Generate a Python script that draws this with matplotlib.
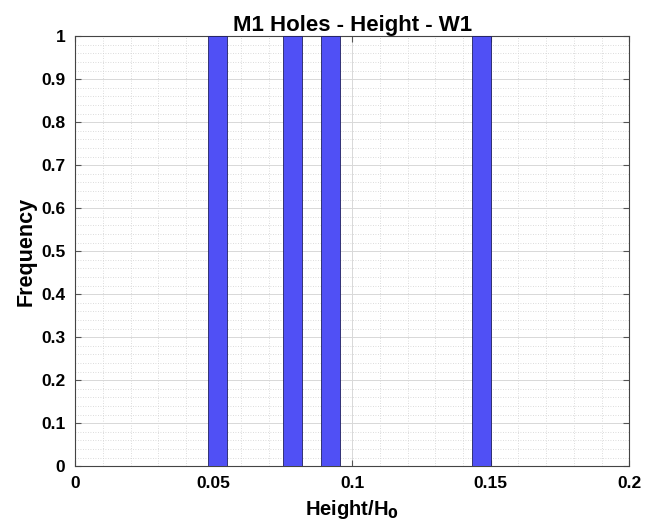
import numpy as np
import matplotlib
matplotlib.use("Agg")
import matplotlib.pyplot as plt
from matplotlib.ticker import MultipleLocator

plt.rcParams['font.family'] = ['Liberation Sans', 'DejaVu Sans']

# histogram bins
bin_left = [0.048, 0.0752, 0.0888, 0.1432]
bin_width = 0.0068
freq = [1, 1, 1, 1]

fig = plt.figure(figsize=(6.48, 5.31), dpi=100)
ax = fig.add_axes([0.116, 0.122, 0.855, 0.81])

ax.bar(bin_left, freq, width=bin_width, align='edge',
       color='#5050f5', edgecolor='#202060', linewidth=0.6, zorder=3)

ax.set_xlim(0, 0.2)
ax.set_ylim(0, 1)
ax.xaxis.set_minor_locator(MultipleLocator(0.01))
ax.yaxis.set_minor_locator(MultipleLocator(0.02))
ax.set_xticks([0, 0.05, 0.1, 0.15, 0.2])
ax.set_xticklabels(['0', '0.05', '0.1', '0.15', '0.2'])
ax.set_yticks(np.round(np.arange(0, 1.01, 0.1), 1))
ax.set_yticklabels(['0', '0.1', '0.2', '0.3', '0.4', '0.5', '0.6', '0.7', '0.8', '0.9', '1'])

ax.grid(which='major', color='#d8d8d8', linewidth=0.7, zorder=0)
ax.grid(which='minor', color='#d0d0d0', linewidth=0.6, linestyle=(0, (1, 2)), zorder=0)
ax.tick_params(which='both', direction='in', top=True, right=True,
               labelsize=12.5, color='#555555')
ax.tick_params(which='minor', length=0)
ax.tick_params(which='major', length=4, pad=7)
for lab in ax.get_xticklabels() + ax.get_yticklabels():
    lab.set_fontweight('bold')
for s in ax.spines.values():
    s.set_color('#444444')
    s.set_linewidth(0.8)

ax.set_title('M1 Holes - Height - W1', fontsize=16, fontweight='bold', pad=3)
ax.set_xlabel('Height/H$_\\mathbf{0}$', fontsize=14.5, fontweight='bold', labelpad=5)
ax.set_ylabel('Frequency', fontsize=15.5, fontweight='bold', labelpad=3)

fig.savefig('out.png', dpi=100)
